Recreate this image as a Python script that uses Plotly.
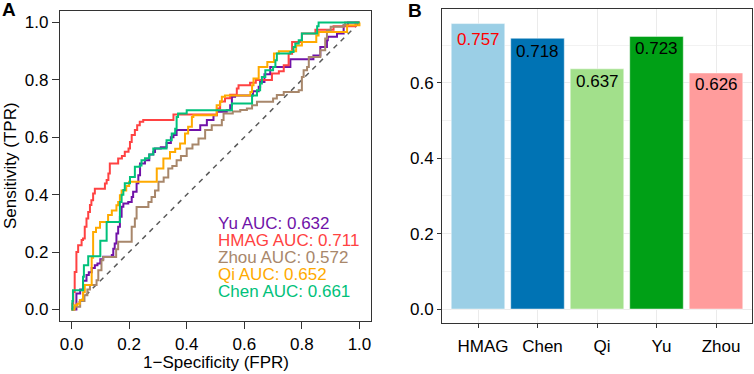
import plotly.graph_objects as go

# ---------------- data: panel A (ROC curves, step vertices) ----------------
roc_models = ["Yu", "HMAG", "Zhou", "Qi", "Chen"]
roc_auc = [0.632, 0.711, 0.572, 0.652, 0.661]

fpr_yu = [0, 0.012, 0.017, 0.03, 0.04, 0.052, 0.06, 0.07, 0.081, 0.09, 0.1, 0.11, 0.14, 0.145, 0.15,
          0.156, 0.162, 0.168, 0.174, 0.18, 0.197, 0.209, 0.214, 0.226, 0.232, 0.238, 0.255, 0.27,
          0.284, 0.29, 0.31, 0.33, 0.345, 0.354, 0.365, 0.44, 0.447, 0.47, 0.493, 0.505, 0.539,
          0.551, 0.557, 0.568, 0.62, 0.63, 0.65, 0.655, 0.67, 0.69, 0.748, 0.76, 0.83, 0.84, 0.864,
          0.887, 0.89, 0.922, 0.945, 0.96, 1.0]
tpr_yu = [0, 0, 0.056, 0.07, 0.1, 0.12, 0.13, 0.145, 0.154, 0.16, 0.175, 0.184, 0.19, 0.212, 0.23,
          0.265, 0.288, 0.323, 0.358, 0.369, 0.375, 0.392, 0.41, 0.44, 0.468, 0.509, 0.52, 0.54,
          0.549, 0.561, 0.565, 0.58, 0.6, 0.608, 0.625, 0.625, 0.642, 0.66, 0.677, 0.689, 0.694,
          0.712, 0.741, 0.746, 0.746, 0.76, 0.776, 0.793, 0.82, 0.845, 0.845, 0.872, 0.872, 0.885,
          0.915, 0.938, 0.95, 0.962, 0.99, 1.0, 1.0]

fpr_hmag = [0, 0.003, 0.006, 0.011, 0.017, 0.023, 0.035, 0.04, 0.046, 0.052, 0.058, 0.064, 0.069,
            0.075, 0.081, 0.110, 0.116, 0.122, 0.128, 0.133, 0.157, 0.162, 0.175, 0.185, 0.198,
            0.203, 0.209, 0.22, 0.228, 0.237, 0.249, 0.354, 0.5, 0.505, 0.516, 0.533, 0.551, 0.574,
            0.58, 0.61, 0.62, 0.64, 0.68, 0.696, 0.72, 0.737, 0.754, 0.766, 0.8, 0.847, 0.91, 0.98,
            0.986, 1.0]
tpr_hmag = [0, 0.02, 0.061, 0.131, 0.2, 0.224, 0.242, 0.247, 0.288, 0.317, 0.34, 0.364, 0.381,
            0.404, 0.421, 0.421, 0.439, 0.451, 0.474, 0.509, 0.509, 0.526, 0.535, 0.55, 0.561,
            0.584, 0.608, 0.625, 0.642, 0.654, 0.66, 0.679, 0.679, 0.70, 0.725, 0.736, 0.748, 0.77,
            0.781, 0.781, 0.79, 0.8, 0.8, 0.822, 0.83, 0.851, 0.891, 0.932, 0.962, 0.975, 0.987,
            0.987, 1.0, 1.0]

fpr_zhou = [0, 0.01, 0.03, 0.045, 0.055, 0.064, 0.081, 0.087, 0.093, 0.104, 0.11, 0.15, 0.155,
            0.162, 0.203, 0.209, 0.22, 0.226, 0.261, 0.267, 0.278, 0.29, 0.302, 0.32, 0.336, 0.35,
            0.365, 0.38, 0.4, 0.42, 0.441, 0.464, 0.487, 0.522, 0.528, 0.56, 0.586, 0.609, 0.627,
            0.644, 0.7, 0.713, 0.737, 0.789, 0.8, 0.806, 0.818, 0.824, 0.858, 0.864, 0.881, 0.887,
            0.9, 0.945, 0.95, 1.0]
tpr_zhou = [0, 0.01, 0.03, 0.05, 0.07, 0.085, 0.085, 0.102, 0.137, 0.172, 0.183, 0.183, 0.21,
            0.236, 0.236, 0.288, 0.317, 0.357, 0.357, 0.375, 0.392, 0.415, 0.445, 0.46, 0.491, 0.5,
            0.52, 0.535, 0.561, 0.575, 0.596, 0.625, 0.642, 0.66, 0.683, 0.69, 0.695, 0.7, 0.712,
            0.724, 0.735, 0.747, 0.758, 0.764, 0.81, 0.834, 0.845, 0.88, 0.88, 0.903, 0.944, 0.973,
            0.985, 0.99, 1.0, 1.0]

fpr_qi = [0, 0.01, 0.02, 0.029, 0.04, 0.046, 0.067, 0.07, 0.075, 0.085, 0.099, 0.122, 0.127, 0.14,
          0.156, 0.162, 0.168, 0.174, 0.19, 0.2, 0.29, 0.296, 0.319, 0.342, 0.36, 0.377, 0.394,
          0.405, 0.418, 0.423, 0.493, 0.504, 0.516, 0.522, 0.533, 0.615, 0.621, 0.627, 0.632, 0.65,
          0.68, 0.703, 0.72, 0.76, 0.78, 0.80, 0.84, 0.85, 0.858, 0.945, 0.957, 1.0]
tpr_qi = [0, 0.015, 0.02, 0.033, 0.06, 0.085, 0.085, 0.18, 0.27, 0.285, 0.305, 0.305, 0.329, 0.345,
          0.363, 0.375, 0.398, 0.415, 0.43, 0.445, 0.445, 0.491, 0.526, 0.549, 0.56, 0.578, 0.613,
          0.637, 0.671, 0.677, 0.677, 0.712, 0.724, 0.741, 0.746, 0.746, 0.758, 0.781, 0.805, 0.845,
          0.862, 0.892, 0.9, 0.9, 0.92, 0.932, 0.932, 0.955, 0.967, 0.967, 0.99, 1.0]

fpr_chen = [0, 0.003, 0.005, 0.035, 0.04, 0.043, 0.055, 0.058, 0.098, 0.1, 0.12, 0.122, 0.165,
            0.168, 0.174, 0.18, 0.185, 0.203, 0.22, 0.237, 0.243, 0.255, 0.27, 0.284, 0.328, 0.33,
            0.348, 0.36, 0.365, 0.37, 0.40, 0.557, 0.609, 0.627, 0.644, 0.655, 0.661, 0.673, 0.70,
            0.708, 0.713, 0.76, 0.771, 0.777, 0.789, 0.80, 0.847, 0.853, 0.858, 1.0]
tpr_chen = [0, 0.03, 0.067, 0.067, 0.114, 0.154, 0.154, 0.186, 0.186, 0.24, 0.24, 0.305, 0.305,
            0.375, 0.4, 0.416, 0.44, 0.462, 0.497, 0.502, 0.52, 0.527, 0.54, 0.561, 0.561, 0.59,
            0.613, 0.63, 0.671, 0.683, 0.694, 0.718, 0.718, 0.746, 0.764, 0.787, 0.81, 0.834, 0.845,
            0.868, 0.892, 0.897, 0.915, 0.927, 0.938, 0.962, 0.962, 0.987, 1.0, 1.0]

roc_tick_vals = [0.0, 0.2, 0.4, 0.6, 0.8, 1.0]

# ---------------- data: panel B (bars) ----------------
bar_models = ["HMAG", "Chen", "Qi", "Yu", "Zhou"]
bar_values = [0.757, 0.718, 0.637, 0.723, 0.626]
bar_tick_vals = [0.0, 0.2, 0.4, 0.6]

# ---------------- styles ----------------
FONT = "Liberation Sans, Arial, Helvetica, sans-serif"
roc_colors = {"Yu": "#7012A8", "HMAG": "#FF4242", "Zhou": "#A8876B", "Qi": "#FFAA00", "Chen": "#00C17A"}
bar_colors = ["#9BCFE6", "#0073B4", "#A2E08B", "#00A016", "#FF9C9C"]
label_colors = ["#FF0000", "#000000", "#000000", "#000000", "#000000"]
label_shift = [-16, -13, -13, -12, -12]

W, H = 754, 374
fig = go.Figure()

series = [(fpr_yu, tpr_yu), (fpr_hmag, tpr_hmag), (fpr_zhou, tpr_zhou), (fpr_qi, tpr_qi), (fpr_chen, tpr_chen)]

# diagonal reference
fig.add_trace(go.Scatter(x=[0, 1], y=[0, 1], mode="lines", xaxis="x", yaxis="y",
                         line=dict(color="#5A5A5A", width=1.5, dash="5px,5px"),
                         showlegend=False, hoverinfo="skip"))
for name, (fx, ty) in zip(roc_models, series):
    fig.add_trace(go.Scatter(x=fx, y=ty, mode="lines", xaxis="x", yaxis="y", name=name,
                             line=dict(color=roc_colors[name], width=2, shape="hv"),
                             showlegend=False))

fig.add_trace(go.Bar(x=bar_models, y=bar_values, xaxis="x2", yaxis="y2", width=0.9,
                     marker=dict(color=bar_colors, line=dict(color="rgba(255,255,255,0.6)", width=0.8)),
                     showlegend=False))

annotations = []
# legend-like text inside panel A
leg_top, leg_step = 0.300, 0.0597
for i, (name, auc) in enumerate(zip(roc_models, roc_auc)):
    annotations.append(dict(x=0.502, y=leg_top - i * leg_step, xref="x", yref="y",
                            text=f"{name} AUC: {auc:.3f}", showarrow=False, xanchor="left",
                            yanchor="middle", font=dict(family=FONT, size=17, color=roc_colors[name])))
# bar value labels
for i, (m, v) in enumerate(zip(bar_models, bar_values)):
    annotations.append(dict(x=m, y=v, xref="x2", yref="y2", text=f"{v:.3f}", showarrow=False,
                            xanchor="center", yanchor="middle", yshift=label_shift[i],
                            font=dict(family=FONT, size=17, color=label_colors[i])))
# axis titles of panel A
annotations.append(dict(x=215.5 / W, y=1 - 362 / H, xref="paper", yref="paper",
                        text="1\u2212Specificity (FPR)", showarrow=False, xanchor="center",
                        yanchor="middle", font=dict(family=FONT, size=17, color="#000")))
annotations.append(dict(x=10 / W, y=1 - 166 / H, xref="paper", yref="paper",
                        text="Sensitivity (TPR)", showarrow=False, textangle=-90,
                        xanchor="center", yanchor="middle", font=dict(family=FONT, size=17, color="#000")))
# panel letters
annotations.append(dict(x=8.5 / W, y=1 - 10 / H, xref="paper", yref="paper", text="<b>A</b>",
                        showarrow=False, xanchor="center", yanchor="middle",
                        font=dict(family=FONT, size=19, color="#000")))
annotations.append(dict(x=415 / W, y=1 - 10.5 / H, xref="paper", yref="paper", text="<b>B</b>",
                        showarrow=False, xanchor="center", yanchor="middle",
                        font=dict(family=FONT, size=19, color="#000")))

ymax = max(bar_values)
axis_font = dict(family=FONT, size=17, color="#000")

fig.update_layout(
    width=W, height=H, margin=dict(l=0, r=0, t=0, b=0),
    paper_bgcolor="white", plot_bgcolor="white",
    font=dict(family=FONT, size=17, color="#000"),
    xaxis=dict(domain=[60 / W, 371 / W], range=[-0.04, 1.04], tickvals=roc_tick_vals,
               tickformat=".1f", ticks="outside", ticklen=7, tickwidth=1.2, tickcolor="#333",
               showline=True, mirror=True, linecolor="#333", linewidth=1.2, showgrid=False,
               zeroline=False, tickfont=axis_font, anchor="y", automargin=False),
    yaxis=dict(domain=[1 - 321 / H, 1 - 11 / H], range=[-0.04, 1.04], tickvals=roc_tick_vals,
               tickformat=".1f", ticks="outside", ticklen=7, tickwidth=1.2, tickcolor="#333",
               showline=True, mirror=True, linecolor="#333", linewidth=1.2, showgrid=False,
               zeroline=False, tickfont=axis_font, anchor="x", automargin=False),
    xaxis2=dict(domain=[442.3 / W, 751.7 / W], range=[-0.6, 4.6], type="category",
                ticks="outside", ticklen=4, tickwidth=1.2, tickcolor="#333",
                showline=True, mirror=True, linecolor="#333", linewidth=1.3,
                showgrid=True, gridcolor="#EBEBEB", gridwidth=1, zeroline=False,
                tickfont=axis_font, anchor="y2", automargin=False, ticklabelshift=5,
                ticklabelstandoff=3),
    yaxis2=dict(domain=[1 - 323.3 / H, 1 - 9.3 / H], range=[-0.05 * ymax, 1.05 * ymax],
                tickvals=bar_tick_vals, tickformat=".1f", ticks="outside", ticklen=4,
                tickwidth=1.2, tickcolor="#333", showline=True, mirror=True, linecolor="#333",
                linewidth=1.3, showgrid=True, gridcolor="#EBEBEB", gridwidth=1, zeroline=False,
                minor=dict(dtick=0.1, tick0=0, showgrid=True, gridcolor="#F2F2F2", gridwidth=0.6),
                tickfont=axis_font, anchor="x2", automargin=False),
    annotations=annotations,
)

fig.write_html("out.html", config={"displayModeBar": False},
               post_script="document.body.style.margin='0px';document.body.style.overflow='hidden';")
